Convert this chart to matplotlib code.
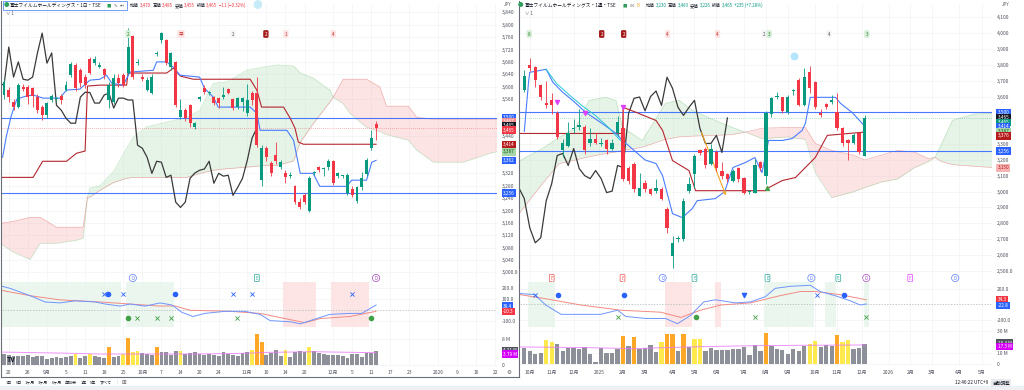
import numpy as np
import matplotlib
matplotlib.use("Agg")
import matplotlib.pyplot as plt
from matplotlib.transforms import blended_transform_factory as blend
from matplotlib.lines import Line2D
from matplotlib.patches import Rectangle

plt.rcParams['font.family'] = ['Noto Sans CJK JP', 'DejaVu Sans']

# ------------------------------------------------------------------ data
# Left chart: daily candles (Aug-Dec 2025)
L_open = [3573,3589,3550,3534,3599,3599,3595,3566,3534,3508,
          3557,3560,3569,3589,3637,3670,3653,3631,3689,3676,
          3665,3657,3557,3550,3628,3637,3644,3764,3675,3631,
          3590,3579,3705,3751,3751,3663,3679,3501,3524,3540,
          3469,3560,3595,3579,3566,3563,3566,3592,3560,3534,
          3550,3514,3579,3579,3298,3401,3353,3379,3340,3320,
          3310,3278,3227,3249,3197,3320,3340,3333,3340,3359,
          3310,3310,3256,3269,3230,3275,3317,3401,3479]
L_close = [3615,3566,3534,3605,3592,3566,3570,3524,3508,3546,
           3569,3563,3557,3605,3673,3595,3611,3605,3644,3689,
           3667,3637,3605,3628,3611,3605,3728,3631,3680,3624,
           3621,3631,3708,3773,3676,3709,3540,3524,3498,3482,
           3482,3566,3582,3581,3547,3547,3573,3579,3531,3563,
           3563,3557,3557,3411,3401,3372,3320,3359,3356,3307,
           3314,3227,3210,3227,3304,3321,3330,3334,3359,3288,
           3320,3311,3314,3249,3275,3304,3362,3434,3466]
L_high = [3625,3600,3560,3612,3610,3605,3600,3575,3540,3552,
          3575,3568,3575,3618,3680,3676,3660,3640,3695,3700,
          3680,3660,3615,3640,3640,3645,3789,3768,3688,3640,
          3630,3640,3715,3778,3755,3713,3684,3560,3530,3545,
          3486,3570,3605,3586,3570,3566,3600,3596,3565,3568,
          3568,3610,3585,3631,3410,3408,3360,3420,3362,3330,
          3325,3282,3240,3255,3310,3326,3345,3340,3365,3364,
          3325,3316,3320,3280,3280,3325,3368,3460,3489]
L_low = [3560,3550,3525,3530,3585,3545,3535,3515,3492,3500,
         3550,3555,3545,3585,3630,3585,3600,3595,3640,3670,
         3660,3625,3530,3545,3600,3600,3640,3625,3670,3618,
         3585,3575,3700,3740,3670,3655,3535,3495,3490,3470,
         3462,3555,3575,3572,3540,3530,3560,3575,3525,3528,
         3520,3505,3540,3405,3280,3360,3310,3350,3335,3290,
         3305,3222,3205,3222,3195,3316,3325,3310,3330,3282,
         3306,3305,3250,3245,3225,3265,3312,3395,3427]
L_vol = [3.4,3.0,2.7,2.8,2.9,3.2,2.6,2.8,2.8,2.0,
         2.2,2.4,2.2,2.5,2.8,3.4,2.2,2.9,3.5,2.8,
         2.4,2.1,5.6,2.5,2.9,3.3,8.3,4.0,4.3,3.7,
         3.5,3.2,5.6,4.0,3.9,3.2,4.2,4.3,3.4,3.6,
         3.9,3.5,3.1,3.4,3.0,2.8,4.1,3.5,3.0,2.7,
         3.8,3.9,4.5,9.7,7.0,3.2,3.8,4.5,2.9,4.7,
         2.6,4.0,4.2,4.1,5.6,4.2,3.8,3.3,3.1,3.1,
         3.1,2.8,2.3,3.4,3.4,2.6,3.8,3.6,4.2]
L_volcls = list("ggggggggggggggg" "y" "gg" "y" "ggg" "o" "gg" "y" "o" "y" "y" "ggg" "o"
                "gggg" "y" "gggggggggggggg" "y" "o" "o" "gggg" "y" "gggg" "y" "gggggggggggggg")
L_vol_ma_x = [-0.5, 15, 20, 40, 50, 55, 65, 78]
L_vol_ma = [4.0, 3.6, 3.4, 3.4, 3.6, 3.9, 4.1, 3.8]

L_tenkan_x = [-0.3,0.5,1.5,2.7,4.7,6.1,8.2,11.7,13.1,15.9,18.0,20.1,21.5,22.6,25.0,26.4,31.3,
              32.0,34.1,35.5,36.9,41.0,42.0,43.9,44.9,51.6,53.0,53.7,59.3,60.7,62.1,64.8,
              66.2,71.8,72.9,76.0,77.1,78.0]
L_tenkan = [3372,3440,3505,3560,3570,3573,3563,3563,3589,3592,3621,3624,3637,3611,3605,3647,3653,
            3680,3680,3663,3637,3631,3595,3566,3534,3534,3514,3459,3459,3427,3320,3320,
            3278,3278,3298,3298,3356,3362]
L_kijun_x = [-0.8,6.1,8.1,13.1,15.2,17.0,17.5,20.1,25.7,26.0,34.1,35.5,37.0,39.7,51.6,53.0,
             54.0,58.6,60.0,61.0,61.7,62.8,78.0]
L_kijun = [3307,3307,3359,3359,3385,3392,3602,3605,3605,3644,3644,3660,3634,3624,3624,3589,
           3534,3534,3498,3466,3421,3414,3414]
L_cloud_x = [-0.8,2.0,5.5,7.6,11.0,15.2,16.6,17.5,18.0,20.1,22.9,25.7,27.1,29.9,38.3,41.1,43.9,
             46.7,50.9,54.4,57.2,60.7,62.1,64.8,68.3,69.0,71.1,72.5,76.0,78.8,80.2,84.8,86.5,
             90.0,96.3,99.1,101.9,103.4]
L_span_a = [3094,3065,3042,3094,3094,3104,3110,3243,3272,3280,3324,3401,3437,3470,3501,3524,3611,
            3615,3653,3663,3670,3667,3644,3628,3589,3566,3545,3514,3469,3455,3445,3427,3395,
            3356,3356,3370,3385,3390]
L_span_b = [3158,3165,3178,3178,3146,3146,3146,3243,3243,3265,3290,3304,3307,3307,3307,3320,3330,
            3335,3340,3345,3345,3360,3420,3480,3550,3566,3624,3624,3624,3599,3537,3537,3501,
            3495,3495,3495,3495,3495]
L_osc_x = [-0.4,1.3,5.5,8.6,11.7,14.9,19.1,21.2,24.3,26.4,29.6,32.7,35.2,37.3,39.6,42.1,46.3,
           50.5,53.7,55.8,60.0,62.1,64.2,68.3,72.5,75.0,78.0]
L_osc_fast = [219,200,133,76,67,86,76,57,38,57,38,67,48,-19,-57,-29,-10,-10,-38,-95,-105,-124,
              -95,-38,-29,-29,48]
L_osc_slow_x = [-0.4,5.5,11.7,20.1,26.4,32.7,35.8,39.0,47.4,53.7,57.9,63.1,66.3,72.5,78.0]
L_osc_slow = [181,133,95,76,57,38,40,0,-10,-29,-67,-114,-76,-57,-10]
L_shade_green = [(-0.4, 24.5), (25.6, 35.6)]
L_shade_red = [(58.5, 65.4), (68.6, 76.5)]
L_mark_bx = [21.0, 24.9, 48.0, 52.0, 73.0]
L_mark_bo = [21.8, 35.8]
L_mark_go = [26.0, 77.0]
L_mark_gx = [27.9, 32.0, 35.0, 48.8]
L_ticks = [1,5,9,13,17,21,25,29,33,37,41,45,51,55,59,63,69,73,77,81,85,91,95,99,103]
L_ticklabels = ["20","26","9月","5","11","18","25","10月","7","14","20","24","11月","10",
                "14","20","12月","5","11","17","23","2026","9","16","22"]
L_price_ticks = [3000,3040,3080,3120,3160,3200,3240,3280,3320,3440,3560,3600,3640,3680,
                 3720,3760,3800,3840]

# Right chart: weekly candles (Sep 2024 - Dec 2025)
R_open = [3639,3798,3785,3671,3557,3576,3494,3260,3291,3393,
          3405,3405,3304,3335,3303,3323,3272,3367,3399,3152,
          3177,2975,3057,3019,3003,3019,2892,2595,2702,2702,
          3007,3114,3260,3272,3177,3247,3133,3114,3070,3146,
          3089,3000,2994,3184,3101,3490,3594,3595,3500,3632,
          3703,3544,3753,3690,3494,3551,3563,3500,3399,3323,
          3310,3367,3228]
R_close = [3728,3779,3703,3595,3544,3544,3342,3304,3367,3399,
           3418,3260,3335,3310,3306,3272,3310,3437,3082,3070,
           3019,3025,3019,2987,3025,2956,2772,2677,2709,2943,
           3051,3228,3241,3165,3272,3146,3101,3082,3133,3082,
           2994,3003,3165,3152,3494,3589,3597,3510,3600,3635,
           3544,3722,3652,3532,3481,3532,3576,3399,3304,3304,
           3355,3247,3465]
R_high = [3766,3842,3790,3680,3700,3620,3510,3330,3440,3460,
          3520,3420,3400,3370,3340,3335,3330,3480,3520,3160,
          3185,3120,3075,3025,3080,3030,2900,2720,2720,2960,
          3090,3240,3270,3280,3300,3260,3190,3120,3145,3155,
          3095,3010,3205,3195,3510,3600,3630,3600,3610,3650,
          3720,3780,3790,3700,3520,3560,3610,3620,3410,3330,
          3370,3375,3483]
R_low = [3630,3760,3660,3580,3530,3490,3330,3220,3280,3370,
         3390,3240,3290,3300,3290,3240,3265,3350,3070,3050,
         3000,2970,3000,2980,2990,2950,2740,2520,2680,2690,
         2990,3020,3230,3150,3170,3130,3080,3060,3060,3060,
         2985,2985,2990,3130,3050,3470,3585,3495,3490,3610,
         3540,3540,3620,3520,3470,3520,3550,3390,3290,3200,
         3300,3240,3226]
R_vol = [14.2,11.8,9.4,10.3,21.8,20.0,18.5,11.8,14.8,14.2,
         13.3,15.4,9.4,1.5,14.8,10.3,10.3,13.9,25.5,16.4,
         24.5,13.3,14.2,17.3,11.2,20.0,27.6,27.0,11.8,27.0,
         15.4,22.4,23.0,11.8,14.8,12.4,12.4,12.4,13.3,13.3,
         15.4,7.9,17.3,11.8,27.9,16.4,13.9,12.7,9.4,13.9,
         11.8,16.4,18.5,20.9,15.4,17.0,16.1,26.4,20.0,21.8,
         13.3,14.2,17.9]
R_volcls = list("gggg" "yy" "gggggggggggg" "o" "g" "o" "gggg" "y" "oo" "g" "o" "g" "yy"
                "ggggggggggg" "o" "ggggggg" "yy" "ggg" "o" "yy" "ggg")
R_vol_ma_x = [-0.8, 10, 20, 30, 40, 50, 62]
R_vol_ma = [15.5, 15.0, 14.0, 15.5, 16.5, 17.0, 17.3]

R_tenkan_x = [0.0,0.8,1.0,4.0,5.2,7.0,8.8,11.2,14.2,16.7,17.9,20.0,22.0,24.0,25.2,27.0,28.8,
              30.6,31.5,34.8,36.5,38.0,40.3,42.0,43.3,44.5,47.0,48.8,50.6,51.2,52.1,56.7,
              57.6,59.7,62.0]
R_tenkan = [3380,3700,3753,3772,3690,3627,3576,3500,3430,3367,3323,3260,3200,3177,3100,2861,
            2836,2893,2943,2956,3000,3152,3184,3215,3120,3323,3323,3335,3386,3430,3595,3595,
            3557,3500,3414]
R_kijun_x = [-0.8,17.9,18.0,20.4,24.0,25.2,27.0,30.0,31.2,44.0,44.5,47.0,49.4,51.2,53.0,55.2,62.0]
R_kijun = [3367,3367,3532,3500,3449,3386,3196,3133,3006,3006,3025,3070,3089,3152,3215,3355,3376]
R_cloud_x = [-0.8,3.3,6.4,9.4,11.8,14.8,16.7,17.9,21.5,25.7,28.2,30.6,34.8,37.9,40.9,43.3,48.0,
             51.2,53.0,56.0,60.0,62.0,65.0,68.0,71.0,73.6,74.8,76.0,78.0,82.0,86.0,88.0]
R_span_a = [3196,3272,3342,3405,3576,3595,3576,3405,3323,3557,3576,3513,3449,3405,3367,3335,3345,
            3330,3120,2962,3000,3025,3060,3080,3150,3190,3215,3300,3450,3490,3494,3470]
R_span_b = [2867,3050,3177,3200,3220,3240,3250,3260,3280,3330,3345,3350,3355,3360,3380,3400,3405,
            3405,3304,3260,3230,3200,3230,3260,3250,3209,3215,3190,3170,3160,3150,3150]
R_osc_x = [-0.8,1.9,3.9,6.7,10.3,13.9,17.0,18.5,22.1,25.7,27.9,30.3,32.7,34.8,38.5,41.2,43.9,
           45.7,48.5,52.1,53.9,56.6,59.4,61.2,62.3]
R_osc_fast = [145,131,-7,-131,-131,-131,-76,-159,-186,-186,-255,-145,34,62,21,34,103,214,241,
              255,172,117,48,-7,7]
R_osc_slow_x = [-0.8,3.9,10.3,17.6,24.9,28.5,32.1,35.8,41.2,46.6,50.3,53.0,57.5,62.3]
R_osc_slow = [131,76,-7,-76,-103,-172,-76,-7,21,117,172,172,131,62]
R_shade_green = [(0.7, 5.6), (43.7, 52.8), (54.8, 56.8), (61.9, 62.8)]
R_shade_red = [(25.7, 30.6), (34.7, 35.8)]
R_mark_bx = [1.9, 53.4]
R_mark_bo = [6.1, 18.1, 58.3]
R_mark_bv = [40.1]
R_mark_gx = [17.0, 42.0, 62.3]
R_mark_go = [31.2]
R_ticks = [1,5,9,13.6,18,22,27,31,35,40,44,48,53,57,61.5,66.4,70.3,74.3,79.1,83.3]
R_ticklabels = ["10月","11月","12月","2025","2月","3月","4月","5月","6月","7月","8月","9月",
                "10月","11月","12月","2026","2月","3月","4月","5月"]
R_price_ticks = [2500,2600,2700,2800,2900,3000,3100,3200,3300,3600,3700,3800,3900,4000,4100]
R_cyan_x = [4.0, 5.8, 8.2, 10.6, 13.0, 15.5, 17.3, 18.5]
R_cyan_y = [3772, 3685, 3610, 3540, 3480, 3400, 3330, 3300]
R_arrow = [(32.1, 3390), (36.9, 2960)]

W, H = 1024, 390
GREEN, RED = '#089981', '#f23645'
TENKAN, KIJUN = '#4a7dff', '#b5272f'
VOLC = {'g': '#8e9099', 'y': '#ffe94d', 'o': '#ffa726'}

fig = plt.figure(figsize=(W / 100, H / 100), dpi=100)
fig.patch.set_facecolor('white')
renderer = fig.canvas.get_renderer()


def px_axes(x0, y0, x1, y1):
    ax = fig.add_axes([x0 / W, 1 - y1 / H, (x1 - x0) / W, (y1 - y0) / H])
    ax.set_facecolor('none')
    for s in ax.spines.values():
        s.set_visible(False)
    ax.tick_params(length=0, labelsize=3.6, colors='#50535e')
    ax.yaxis.tick_right()
    return ax


def fy(ypx):
    return 1 - ypx / H


def fmt(v):
    return f"{v:,.0f}"


def seq_text(x_px, y_px, parts, size=3.3, gap=1.5):
    """Place text pieces one after another, measuring each."""
    x = x_px
    for t, col in parts:
        tx = fig.text(x / W, fy(y_px), t, fontsize=size, color=col, va='center', ha='left')
        bb = tx.get_window_extent(renderer=renderer)
        x += bb.width + gap
    return x


def rlabel(ax, yval, text, fc, tc='white'):
    tr = blend(ax.transAxes, ax.transData)
    ax.text(1.012, yval, text, transform=tr, fontsize=3.4, color=tc, va='center', ha='left',
            bbox=dict(boxstyle='square,pad=0.25', fc=fc, ec='none'), clip_on=False, zorder=10)


def draw_panel(x0, x1, o, h, l, c, vol, volcls, vma_x, vma, tk_x, tk, kj_x, kj, cx, sa, sb,
               ox, ofast, osx, oslow, sh_g, sh_r, xlim, ylim, oylim, vylim, ticks, ticklabels,
               pticks, width):
    axp = px_axes(x0, 4, x1, 278)
    axo = px_axes(x0, 279, x1, 331)
    axv = px_axes(x0, 331, x1, 366)
    for a in (axp, axo, axv):
        a.set_xlim(*xlim)
        a.set_xticks(ticks)
        a.grid(True, color='#f2f3f5', lw=0.5)
        a.set_axisbelow(True)
    axp.tick_params(labelbottom=False)
    axo.tick_params(labelbottom=False)
    axv.set_xticks(ticks, ticklabels)
    axv.tick_params(axis='x', pad=3)

    axp.set_ylim(*ylim)
    axp.set_yticks(pticks, [fmt(v) if v != pticks[0] else f"{v:,.1f}" for v in pticks])
    cx = np.asarray(cx, float); sa = np.asarray(sa, float); sb = np.asarray(sb, float)
    axp.fill_between(cx, sa, sb, where=sa >= sb, interpolate=True, color='#b9dfbb', alpha=0.35, lw=0)
    axp.fill_between(cx, sa, sb, where=sa < sb, interpolate=True, color='#f7b4b4', alpha=0.35, lw=0)
    axp.plot(cx, sa, color='#7cc47f', lw=0.5, alpha=0.45)
    axp.plot(cx, sb, color='#e57373', lw=0.5, alpha=0.55)
    n = len(o)
    x = np.arange(n)
    o = np.asarray(o, float); c = np.asarray(c, float)
    axp.plot(x - 25, c, color='#3a3a3a', lw=0.9, zorder=3)
    axp.plot(kj_x, kj, color=KIJUN, lw=0.8, zorder=3)
    axp.plot(tk_x, tk, color=TENKAN, lw=0.8, zorder=3)
    cols = np.where(c >= o, GREEN, RED)
    axp.vlines(x, l, h, colors=cols, lw=0.6, zorder=4)
    body = np.maximum(np.abs(c - o), (ylim[1] - ylim[0]) * 0.004)
    axp.bar(x, body, bottom=np.minimum(o, c), width=width, color=cols, lw=0, zorder=5)

    axo.set_ylim(*oylim)
    for a0, a1 in sh_g:
        axo.axvspan(a0, a1, ymin=0.08, ymax=0.95, color='#e6f4ea', alpha=0.8, lw=0)
    for a0, a1 in sh_r:
        axo.axvspan(a0, a1, ymin=0.08, ymax=0.95, color='#fde3e3', alpha=0.9, lw=0)
    axo.axhline(0, color='#b0b3bb', lw=0.5, ls=(0, (2, 2)))
    axo.plot(osx, oslow, color='#f28b82', lw=0.7)
    axo.plot(ox, ofast, color='#6f95ff', lw=0.7)

    axv.set_ylim(*vylim)
    axv.bar(x, vol, width=0.8, color=[VOLC[k] for k in volcls], lw=0)
    axv.plot(vma_x, vma, color='#e879f9', lw=0.7, alpha=0.8)
    return axp, axo, axv


# ---------------- left panel
Lp, Lo, Lv = draw_panel(2, 497, L_open, L_high, L_low, L_close, L_vol, L_volcls, L_vol_ma_x, L_vol_ma,
                        L_tenkan_x, L_tenkan, L_kijun_x, L_kijun, L_cloud_x, L_span_a, L_span_b,
                        L_osc_x, L_osc_fast, L_osc_slow_x, L_osc_slow, L_shade_green, L_shade_red,
                        (-0.42, 103.35), (2982, 3867), (-190, 286), (-0.3, 10.5),
                        L_ticks, L_ticklabels, L_price_ticks, 0.62)
Lo.set_yticks([200, 100, -100], ["200.0", "100.0", "-100.0"])
Lv.set_yticks([0, 8], ["0", "8 M"])
Lp.axhline(3500, color='#2962ff', lw=0.8, alpha=0.85)
Lp.axhline(3256, color='#2962ff', lw=0.8, alpha=0.85)
Lp.axhline(3465, color=RED, lw=0.5, ls=(0, (1, 2)), alpha=0.7)
for lab in [(3500, "3,500", '#2962ff'), (3486, "3,487", '#f28b8b'), (3473, "3,465", '#131722'),
            (3460, "3,465", RED), (3414, "3,414", '#b71c1c'), (3389, "3,387", '#a5d6a7'),
            (3362, "3,362", '#2962ff'), (3256, "3,256", '#2962ff')]:
    rlabel(Lp, lab[0], lab[1], lab[2], '#1b5e20' if lab[2] == '#a5d6a7' else 'white')
rlabel(Lo, 38, "38.4", '#2962ff')
rlabel(Lo, -10, "-10.3", RED)
rlabel(Lv, 4.5, "4.21 M", '#50535e')
rlabel(Lv, 3.4, "3.79 M", '#d500f9')

Lo.scatter(L_mark_bx, [152] * len(L_mark_bx), marker='x', s=9, color='#2962ff', lw=0.6, zorder=6)
Lo.scatter(L_mark_bo, [152] * len(L_mark_bo), marker='o', s=9, color='#2962ff', zorder=6)
Lo.scatter(L_mark_go, [-67] * len(L_mark_go), marker='o', s=9, color='#43a047', zorder=6)
Lo.scatter(L_mark_gx, [-67] * len(L_mark_gx), marker='x', s=9, color='#43a047', lw=0.6, zorder=6)

# ---------------- right panel
Rp, Ro, Rv = draw_panel(520, 992, R_open, R_high, R_low, R_close, R_vol, R_volcls, R_vol_ma_x, R_vol_ma,
                        R_tenkan_x, R_tenkan, R_kijun_x, R_kijun, R_cloud_x, R_span_a, R_span_b,
                        R_osc_x, R_osc_fast, R_osc_slow_x, R_osc_slow, R_shade_green, R_shade_red,
                        (-0.78, 85.2), (2455, 4184), (-352, 338), (-1.8, 30),
                        R_ticks, R_ticklabels, R_price_ticks, 0.62)
Ro.set_yticks([200, -200], ["200.0", "-200.0"])
Rv.set_yticks([0, 10, 30], ["0", "10 M", "30 M"])
Rp.axhline(3500, color='#2962ff', lw=0.8, alpha=0.85)
Rp.axhline(3256, color='#2962ff', lw=0.8, alpha=0.85)
Rp.axhline(3465, color=GREEN, lw=0.5, ls=(0, (1, 2)), alpha=0.6)
Rp.plot(R_cyan_x, R_cyan_y, color='#26c6da', lw=0.7, zorder=3)
Rp.annotate('', xy=R_arrow[1], xytext=R_arrow[0],
            arrowprops=dict(arrowstyle='->', color='#f5a623', lw=0.8, mutation_scale=5))
for lab in [(3500, "3,500", '#2962ff'), (3468, "3,465", '#131722'), (3437, "3,465", GREEN),
            (3411, "3,414", '#2962ff'), (3381, "3,387", '#a5d6a7'), (3352, "3,376", '#b71c1c'),
            (3256, "3,256", '#2962ff'), (3150, "3,150", '#f7b4b4')]:
    rlabel(Rp, lab[0], lab[1], lab[2], '#1b5e20' if lab[2] == '#a5d6a7' else
           ('#b71c1c' if lab[2] == '#f7b4b4' else 'white'))
rlabel(Ro, 62, "34.3", RED)
rlabel(Ro, -10, "-22.8", '#2962ff')
rlabel(Rv, 19.0, "18.4 M", '#50535e')
rlabel(Rv, 16.2, "17.3 M", '#d500f9')
Ro.scatter(R_mark_bx, [131] * len(R_mark_bx), marker='x', s=9, color='#2962ff', lw=0.6, zorder=6)
Ro.scatter(R_mark_bo, [131] * len(R_mark_bo), marker='o', s=9, color='#2962ff', zorder=6)
Ro.scatter(R_mark_bv, [131] * len(R_mark_bv), marker='v', s=9, color='#2962ff', zorder=6)
Ro.scatter(R_mark_gx, [-172] * len(R_mark_gx), marker='x', s=9, color='#43a047', lw=0.6, zorder=6)
Ro.scatter(R_mark_go, [-172] * len(R_mark_go), marker='o', s=9, color='#43a047', zorder=6)
Rp.scatter([5.9, 11.0, 18.0], [3563, 3494, 3532], marker='v', s=8, color='#e040fb', zorder=6)
Rp.scatter([44.2], [3025], marker='^', s=8, color='#43a047', zorder=6)
Rp.scatter([49.2], [3855], marker='o', s=22, color='#b3e5fc', zorder=6)


# ---------------- top tags and event icons
def tag(ax, xb, text, style, ypx):
    st = {'g': ('#d7efd8', '#2e7d32'), 'p': ('#fde2e2', '#c62828'), 'r': ('#a51c1c', 'white'),
          'w': ('#f5f5f5', '#555')}[style]
    ax.text(xb, fy(ypx), text, transform=blend(ax.transData, fig.transFigure), fontsize=3.3,
            ha='center', va='center', color=st[1],
            bbox=dict(boxstyle='round,pad=0.3', fc=st[0], ec='none'), zorder=8)


for xb, t, s in [(26, '2', 'g'), (37.1, '平', 'p'), (48, '2', 'w'), (54.9, '2', 'r'),
                 (59.1, '1', 'p'), (69, '4', 'p')]:
    tag(Lp, xb, t, s, 34)
for xb, t, s in [(0.9, '8', 'g'), (14.1, '2', 'r'), (18.1, '2', 'r'), (26.1, '4', 'p'),
                 (35.2, '4', 'p'), (43.7, '2', 'w'), (44.6, '3', 'g'), (55.5, '4', 'w'),
                 (62.4, '3', 'g')]:
    tag(Rp, xb, t, s, 34)


def event(ax, xb, letter, color):
    ax.text(xb, fy(278), letter, transform=blend(ax.transData, fig.transFigure), fontsize=3.2,
            ha='center', va='center', color=color,
            bbox=dict(boxstyle='circle,pad=0.25' if letter == 'D' else 'round,pad=0.25',
                      fc='white', ec=color, lw=0.5), zorder=8)


for xb, lt, col in [(27, 'D', '#5b7cfa'), (53, 'E', '#26a69a'), (78, 'D', '#ab47bc')]:
    event(Lp, xb, lt, col)
for xb, lt, col in [(5.0, 'E', '#ef5350'), (17.9, 'E', '#ef5350'), (25.2, 'D', '#5b7cfa'),
                    (31.0, 'E', '#26a69a'), (44.3, 'E', '#26a69a'), (52.3, 'D', '#5b7cfa'),
                    (57.2, 'E', '#26a69a'), (62.3, 'D', '#ab47bc'), (70.3, 'E', '#e040fb'),
                    (78.5, 'D', '#5b7cfa')]:
    event(Rp, xb, lt, col)

# ---------------- frame, header, toolbar
for xx in (1, 518.5):
    fig.add_artist(Line2D([xx / W, xx / W], [fy(1), fy(377)], color='#6b6e76', lw=0.8))
fig.add_artist(Line2D([1 / W, 518.5 / W], [fy(377), fy(377)], color='#6b6e76', lw=0.8))
fig.add_artist(Rectangle((0, 0), 1, 4 / H, color='#eef0f4', lw=0))

fig.text(6 / W, fy(5.5), "●", color='#2e9e5b', fontsize=4, ha='center', va='center')
xe = seq_text(10, 5.5, [("富士フイルムホールディングス・1日・TSE", '#131722')], size=3.4)
fig.add_artist(Rectangle((3 / W, fy(10)), (xe + 24 - 3) / W, 9 / H, fill=False, ec='#5c8df6', lw=0.6))
seq_text(xe + 3, 5.5, [("■", '#2e9e5b'), ("✎", '#555'), ("•••", '#555')], size=3.2, gap=3)
seq_text(xe + 27, 5.5, [("始値", '#131722'), ("3,470", RED), ("高値", '#131722'), ("3,485", RED),
                        ("安値", '#131722'), ("3,455", RED), ("終値", '#131722'), ("3,465", RED),
                        ("−11 (−0.32%)", RED)], size=3.2, gap=1.2)
fig.text(6 / W, fy(13.5), "∨ 1", fontsize=3.2, color='#555', va='center')
fig.text(508 / W, fy(5), "JPY", fontsize=3.2, color='#555', va='center', ha='center')
fig.text(257 / W, fy(5), "●", fontsize=7, color='#c8ecf7', va='center', ha='center')

fig.text(521 / W, fy(5.5), "●", color='#2e9e5b', fontsize=4, ha='center', va='center')
xe = seq_text(525, 5.5, [("富士フイルムホールディングス・1週・TSE", '#131722')], size=3.4)
xe = seq_text(xe + 4, 5.5, [("■", '#2e9e5b'), ("∞", '#888'), ("B", '#f5a623')], size=3.2, gap=3)
seq_text(xe + 3, 5.5, [("始値", '#131722'), ("3,230", GREEN), ("高値", '#131722'), ("3,483", GREEN),
                       ("安値", '#131722'), ("3,226", GREEN), ("終値", '#131722'), ("3,465", GREEN),
                       ("+235 (+7.28%)", GREEN)], size=3.2, gap=1.2)
fig.text(525 / W, fy(13.5), "∨ 1", fontsize=3.2, color='#555', va='center')
fig.text(1006 / W, fy(5), "JPY", fontsize=3.2, color='#555', va='center', ha='center')

xe = seq_text(6, 382.5, [(t, '#131722') for t in
                         ["1日", "5日", "1ヶ月", "3ヶ月", "6ヶ月", "年初来", "1年", "5年", "すべて"]],
              size=2.9, gap=3.2)
fig.text((xe + 2) / W, fy(382.5), "|", fontsize=3.0, color='#b0b3bb', va='center')
fig.text((xe + 7) / W, fy(382.5), "⊞", fontsize=4, color='#555', va='center', family=['DejaVu Sans'])
fig.text(7 / W, fy(360), "TV", fontsize=5, color='#131722', weight='bold', va='center')
fig.text(955 / W, fy(383), "12:46:22 UTC+9", fontsize=3.3, color='#131722', va='center')
fig.text(992 / W, fy(383), "自動調整", fontsize=3.2, color='#131722', va='center',
         bbox=dict(boxstyle='square,pad=0.3', fc='#e8e9ec', ec='none'))
fig.text(509 / W, fy(372), "⚙", fontsize=4, color='#555', va='center', ha='center',
         family=['DejaVu Sans'])

fig.savefig("out.png", dpi=100)
